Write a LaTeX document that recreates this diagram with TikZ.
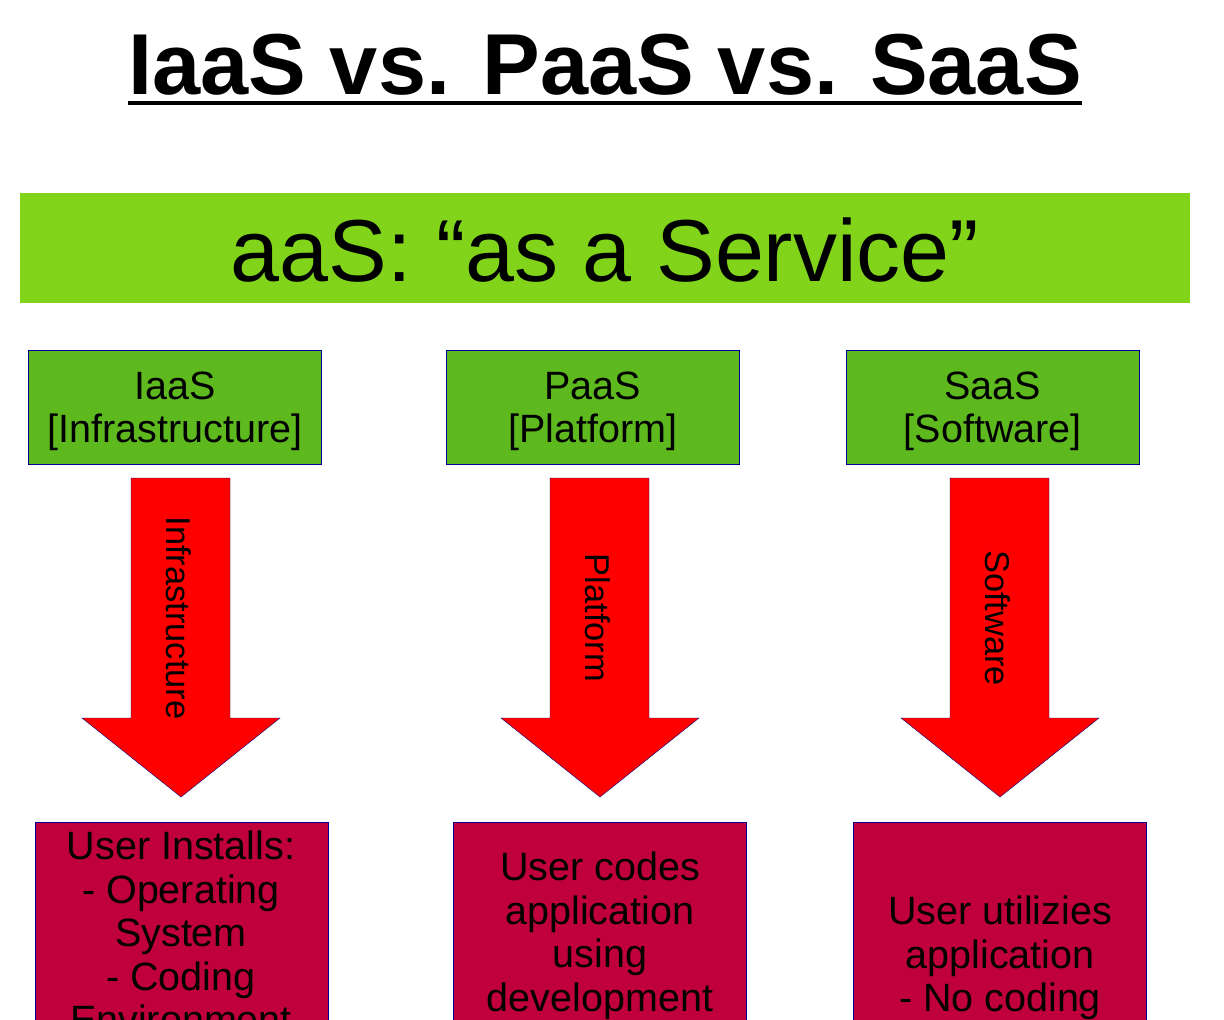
\documentclass[tikz,border=0pt]{standalone}
\usepackage{fontspec}
\setmainfont{Liberation Sans}
\begin{document}
\begin{tikzpicture}[x=1pt,y=-1pt,
  hdr/.style={draw=blue!60!black,line width=0.6pt,fill=hgreen,minimum width=293pt,minimum height=114pt,anchor=north west,inner sep=0pt},
  htxt/.style={align=center,font=\fontsize{39.5}{43}\selectfont,inner sep=0pt},
  arr/.style={draw=blue!50!black,line width=0.4pt,fill=red},
  bot/.style={draw=blue!60!black,line width=0.6pt,fill=crim,anchor=north west,inner sep=0pt},
  btxt/.style={anchor=north,align=center,font=\fontsize{39.5}{43.5}\selectfont,inner sep=0pt},
  lab/.style={rotate=-90,font=\fontsize{34.4}{38}\selectfont,inner sep=0pt}]
\definecolor{bar}{HTML}{81D41A}
\definecolor{hgreen}{HTML}{5EB91E}
\definecolor{crim}{HTML}{C0003C}
\useasboundingbox (0,0) rectangle (1224,1020);
\clip (0,0) rectangle (1224,1020);
\node[font=\bfseries\fontsize{86.5}{96}\selectfont,inner sep=0pt] (title) at (605,65) {IaaS vs. PaaS vs. SaaS};
\draw[line width=4pt] (128,103) -- (1082,103);
\node[fill=bar,minimum width=1170pt,minimum height=110pt,anchor=north west,inner sep=0pt] (bar) at (20,193) {};
\node[font=\fontsize{88}{94}\selectfont] (bartxt) at (605,250) {aaS: “as a Service”};
\foreach \n/\x/\t/\s in {i/28/IaaS/Infrastructure,p/446/PaaS/Platform,s/846/SaaS/Software}{
  \node[hdr] (h\n) at (\x,350) {};
  \node[htxt] (ht\n) at ([yshift=-4pt]h\n.center) {\t\\{[}\s{]}};
}
\foreach \n/\c/\l in {i/181/Infrastructure,p/600/Platform,s/1000/Software}{
  \draw[arr] (\c-50,478) -- (\c+49,478) -- (\c+49,718) -- (\c+99,718) -- (\c,797) -- (\c-99,718) -- (\c-50,718) -- cycle;
  \node[lab] (l\n) at (\c-2,618) {\l};
}
\node[bot,minimum width=293pt,minimum height=220pt] (bi) at (35,822) {};
\node[bot,minimum width=293pt,minimum height=220pt] (bp) at (453,822) {};
\node[bot,minimum width=293pt,minimum height=220pt] (bs) at (853,822) {};
\node[btxt] (ti) at (181,831) {User Installs:\\- Operating\\System\\- Coding\\Environment};
\node[btxt] (tp) at (600,852) {User codes\\application\\using\\development};
\node[btxt] (ts) at (1000,896) {User utilizies\\application\\- No coding};
\end{tikzpicture}
\end{document}
